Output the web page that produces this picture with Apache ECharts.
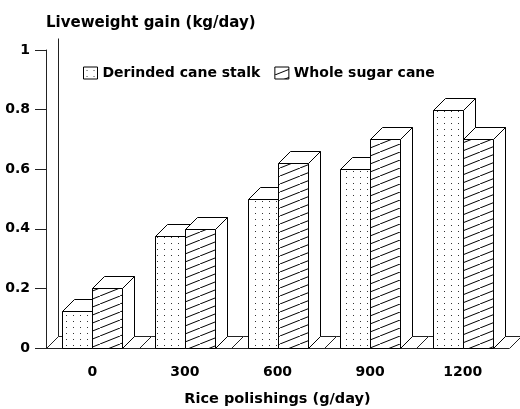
<!DOCTYPE html>
<html>
<head>
<meta charset="utf-8">
<script src="https://cdn.jsdelivr.net/npm/echarts@6/dist/echarts.min.js"></script>
<style>
  html, body { margin: 0; padding: 0; background: #fff; }
  #main { width: 520px; height: 409px; }
</style>
</head>
<body>
<div id="main"></div>
<script>
// data
let categories = ['0', '300', '600', '900', '1200'];
let derindedValues = [0.125, 0.375, 0.5, 0.6, 0.8];
let wholeValues = [0.2, 0.4, 0.62, 0.7, 0.7];
let seriesNames = ['Derinded cane stalk', 'Whole sugar cane'];

const FONT = 'DejaVu Sans';
const BAR_W = 30;   // width of one bar
const DEPTH = 12;   // 3d offset

// dotted fill
function makeDots() {
    let c = document.createElement('canvas');
    c.width = 7;
    c.height = 6;
    let ctx = c.getContext('2d');
    ctx.fillStyle = '#fff';
    ctx.fillRect(0, 0, 7, 6);
    ctx.fillStyle = '#333';
    ctx.fillRect(3, 3, 1, 1);
    return c;
}

// hatched fill, lines rising to the right
function makeHatch() {
    let c = document.createElement('canvas');
    c.width = 20;
    c.height = 8;
    let ctx = c.getContext('2d');
    ctx.fillStyle = '#fff';
    ctx.fillRect(0, 0, 20, 8);
    ctx.strokeStyle = '#000';
    ctx.lineWidth = 1;
    ctx.beginPath();
    ctx.moveTo(-20, 16);
    ctx.lineTo(40, -8);
    ctx.stroke();
    return c;
}

let dotPattern = { image: makeDots(), repeat: 'repeat' };
let hatchPattern = { image: makeHatch(), repeat: 'repeat' };

function px(v) {
    return Math.round(v) + 0.5;
}

// one 3d bar: front face, top, right side
function barRenderer(left, pattern) {
    return function (params, api) {
        let top = api.coord([api.value(0), api.value(1)]);
        let yb = px(api.coord([api.value(0), 0])[1]);
        let yt = px(top[1]);
        let x0 = px(left ? top[0] - BAR_W : top[0]);
        let x1 = x0 + BAR_W;
        let line = { stroke: '#000', lineWidth: 1 };
        return {
            type: 'group',
            children: [
                {
                    type: 'rect',
                    shape: { x: x0, y: yt, width: BAR_W, height: yb - yt },
                    style: Object.assign({ fill: pattern }, line)
                },
                {
                    type: 'polygon',
                    shape: { points: [[x0, yt], [x0 + DEPTH, yt - DEPTH], [x1 + DEPTH, yt - DEPTH], [x1, yt]] },
                    style: Object.assign({ fill: '#fff' }, line)
                },
                {
                    type: 'polygon',
                    shape: { points: [[x1, yt], [x1 + DEPTH, yt - DEPTH], [x1 + DEPTH, yb - DEPTH], [x1, yb]] },
                    style: Object.assign({ fill: '#fff' }, line)
                }
            ]
        };
    };
}

// floor slab and back wall
function floorRenderer(params, api) {
    let idx = api.value(0);
    let bw = api.size([1, 0])[0];
    let c = api.coord([idx, 0]);
    let yb = px(c[1]);
    let xl = px(c[0] - bw / 2);
    let xr = px(c[0] + bw / 2);
    let line = { stroke: '#222', lineWidth: 1 };
    let children = [
        { type: 'line', shape: { x1: xl, y1: yb, x2: xl + DEPTH, y2: yb - DEPTH }, style: line },
        { type: 'line', shape: { x1: xl + DEPTH, y1: yb - DEPTH, x2: xr + DEPTH, y2: yb - DEPTH }, style: line }
    ];
    if (idx === 0) {
        let yTop = px(api.coord([0, 1])[1]);
        children.push({ type: 'line', shape: { x1: xl + DEPTH, y1: yTop - DEPTH, x2: xl + DEPTH, y2: yb - DEPTH }, style: line });
    }
    if (idx === categories.length - 1) {
        children.push({ type: 'line', shape: { x1: xr, y1: yb, x2: xr + DEPTH, y2: yb - DEPTH }, style: line });
    }
    return { type: 'group', children: children };
}

let chart = echarts.init(document.getElementById('main'), null, { renderer: 'canvas' });

let option = {
    backgroundColor: '#fff',
    animation: false,
    textStyle: { fontFamily: FONT },
    grid: { left: 46, right: 11, top: 50, bottom: 61, containLabel: false, outerBoundsMode: 'none' },
    legend: {
        left: 78,
        top: 61,
        itemWidth: 14,
        itemHeight: 12,
        itemGap: 14,
        icon: 'rect',
        textStyle: { fontFamily: FONT, fontSize: 14, fontWeight: 'bold', color: '#000' },
        data: [
            { name: seriesNames[0], itemStyle: { color: dotPattern, borderColor: '#000', borderWidth: 1 } },
            { name: seriesNames[1], itemStyle: { color: hatchPattern, borderColor: '#000', borderWidth: 1 } }
        ]
    },
    xAxis: {
        type: 'category',
        data: categories,
        name: 'Rice polishings (g/day)',
        nameLocation: 'middle',
        nameGap: 44,
        nameTextStyle: { fontFamily: FONT, fontSize: 14.5, fontWeight: 'bold', color: '#000' },
        axisLine: { lineStyle: { color: '#222', width: 1 } },
        axisTick: { alignWithLabel: true, length: 7, lineStyle: { color: '#222' } },
        axisLabel: { fontFamily: FONT, fontSize: 14, fontWeight: 'bold', color: '#000', margin: 17 },
        splitLine: { show: false }
    },
    yAxis: {
        type: 'value',
        min: 0,
        max: 1,
        interval: 0.2,
        name: 'Liveweight gain (kg/day)',
        nameLocation: 'end',
        nameGap: 19,
        nameTextStyle: { fontFamily: FONT, fontSize: 15, fontWeight: 'bold', color: '#000', align: 'left' },
        axisLine: { show: true, lineStyle: { color: '#222', width: 1 } },
        axisTick: { show: true, length: 11, lineStyle: { color: '#222' } },
        axisLabel: { fontFamily: FONT, fontSize: 14, fontWeight: 'bold', color: '#000', margin: 16 },
        splitLine: { show: false }
    },
    series: [
        {
            type: 'custom',
            name: 'floor',
            renderItem: floorRenderer,
            data: categories.map((c, i) => [i, 0]),
            encode: { x: 0, y: 1 },
            silent: true,
            z: 1
        },
        {
            type: 'custom',
            name: seriesNames[0],
            renderItem: barRenderer(true, dotPattern),
            itemStyle: { color: dotPattern, borderColor: '#000' },
            data: derindedValues.map((v, i) => [i, v]),
            encode: { x: 0, y: 1 },
            z: 2
        },
        {
            type: 'custom',
            name: seriesNames[1],
            renderItem: barRenderer(false, hatchPattern),
            itemStyle: { color: hatchPattern, borderColor: '#000' },
            data: wholeValues.map((v, i) => [i, v]),
            encode: { x: 0, y: 1 },
            z: 3
        }
    ]
};

chart.setOption(option);
</script>
</body>
</html>
